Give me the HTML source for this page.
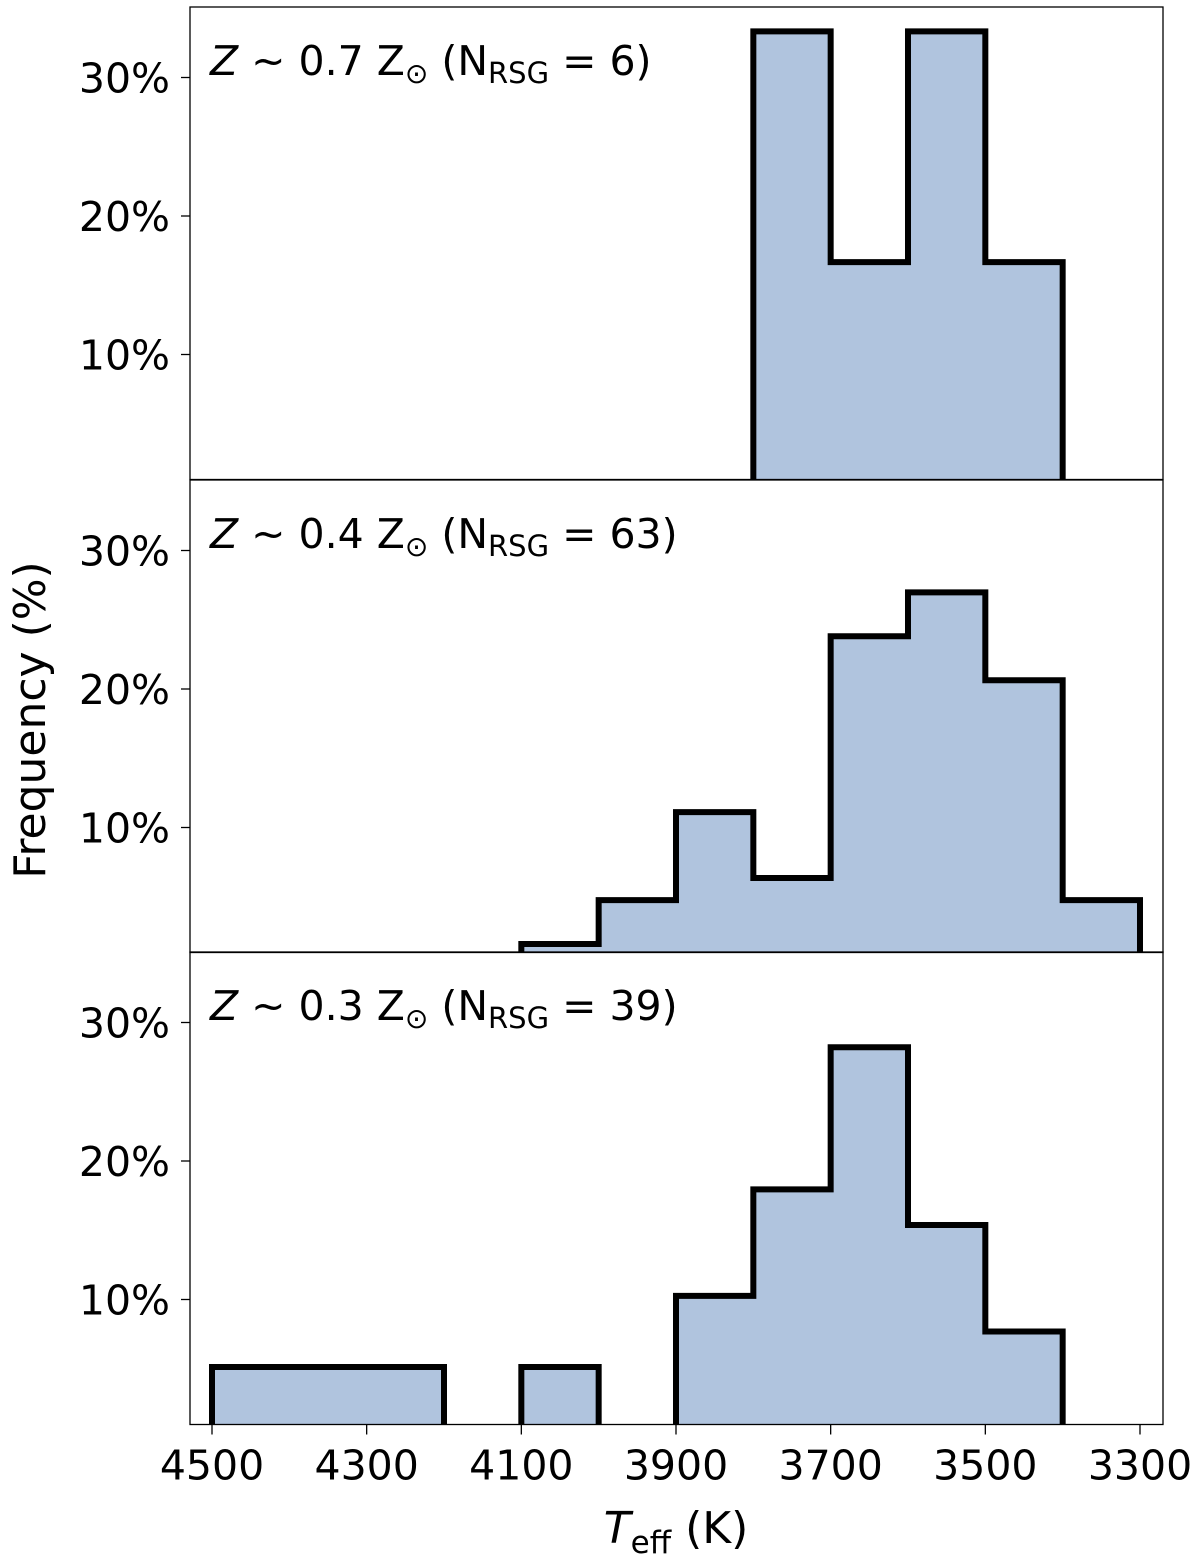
<!DOCTYPE html>
<html><head><meta charset="utf-8"><style>
html,body{margin:0;padding:0;background:#fff;}
svg{display:block;font-family:"DejaVu Sans","Liberation Sans",sans-serif;}
</style></head><body>
<svg id="chart" width="1200" height="1556" viewBox="0 0 1200 1556" xmlns="http://www.w3.org/2000/svg"></svg>
<script>
const binEdges = [4500,4400,4300,4200,4100,4000,3900,3800,3700,3600,3500,3400,3300];
const panel1Values = [0,0,0,0,0,0,0,33.33,16.67,33.33,16.67,0];
const panel2Values = [0,0,0,0,1.59,4.76,11.11,6.35,23.81,26.98,20.63,4.76];
const panel3Values = [5.13,5.13,5.13,0,5.13,0,10.26,17.95,28.21,15.38,7.69,0];
const panelLabels = ["0.7","0.4","0.3"];
const panelCounts = ["6","63","39"];
const xTicks = [4500,4300,4100,3900,3700,3500,3300];
const yTicks = [10,20,30];

const NS="http://www.w3.org/2000/svg";
const svg=document.getElementById('chart');
const L=190,R=1163;
const panelTops=[7,480,952], panelH=472.5;
function x(t){return 212+(4500-t)*0.77333;}
function mk(tag,attrs,parent){const e=document.createElementNS(NS,tag);for(const k in attrs)e.setAttribute(k,attrs[k]);(parent||svg).appendChild(e);return e;}
const allVals=[panel1Values,panel2Values,panel3Values];
const names=["z07","z04","z03"];
for(let p=0;p<3;p++){
  const top=panelTops[p], bot=top+panelH;
  function y(v){return bot+13.5-(v)*13.85;}
  const g=mk('g',{});
  
  
  const cid='clip'+p;
  const cp=mk('clipPath',{id:cid},g);
  mk('rect',{x:L,y:top,width:R-L,height:panelH},cp);
  const vals=allVals[p];
  let d='M'+x(binEdges[0])+','+y(0);
  for(let i=0;i<vals.length;i++){
    d+=' L'+x(binEdges[i])+','+y(vals[i])+' L'+x(binEdges[i+1])+','+y(vals[i]);
  }
  d+=' L'+x(binEdges[binEdges.length-1])+','+y(0)+' Z';
  const path=mk('path',{d:d,fill:'#b0c4de',stroke:'#000','stroke-width':6,'stroke-linejoin':'miter','clip-path':'url(#'+cid+')'},g);
  
  
  const fr=mk('rect',{x:L,y:top,width:R-L,height:panelH,fill:'none',stroke:'#000','stroke-width':1.3},g);
  
  
  for(const t of yTicks){
    const yy=y(t);
    mk('line',{x1:L-9,x2:L,y1:yy,y2:yy,stroke:'#000','stroke-width':1.3},g);
    const tx=mk('text',{x:L-20,y:yy+15,'text-anchor':'end','font-size':41},g);
    tx.textContent=t+'%';
    
    
  }
  const ann=mk('text',{x:210,y:top+68,'font-size':41},g);
  
  
  ann.innerHTML='<tspan font-style="italic">Z</tspan> ~ '+panelLabels[p]+' Z<tspan font-size="28" dy="8">⊙</tspan><tspan dy="-8"> (N</tspan><tspan font-size="29" dy="8">RSG</tspan><tspan dy="-8"> = '+panelCounts[p]+')</tspan>';
}
const bottom=panelTops[2]+panelH;
for(const t of xTicks){
  const xx=x(t);
  mk('line',{x1:xx,x2:xx,y1:bottom,y2:bottom+10,stroke:'#000','stroke-width':1.3});
  const tx=mk('text',{x:xx,y:bottom+55,'text-anchor':'middle','font-size':41});
  tx.textContent=t;
  
  
}
const xl=mk('text',{x:676,y:1543,'text-anchor':'middle','font-size':44});


xl.innerHTML='<tspan font-style="italic">T</tspan><tspan font-size="31" dy="10">eff</tspan><tspan dy="-10"> (K)</tspan>';
const yl=mk('text',{x:0,y:0,'text-anchor':'middle','font-size':44,transform:'translate(45,720) rotate(-90)'});


yl.textContent='Frequency (%)';
</script>
</body></html>
